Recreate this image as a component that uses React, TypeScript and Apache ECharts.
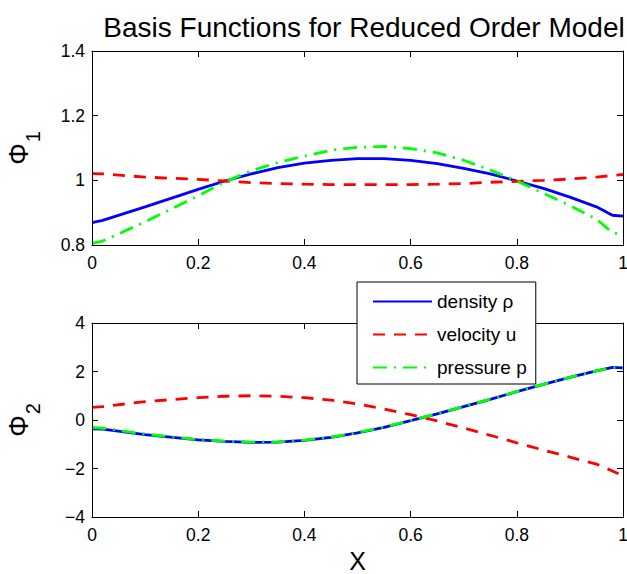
import React, { useEffect, useRef } from "react";
import * as echarts from "echarts";

const xs = [0, 0.02, 0.1, 0.2, 0.25, 0.3, 0.35, 0.4, 0.45, 0.5, 0.55, 0.6, 0.65, 0.7, 0.75, 0.8, 0.85, 0.9, 0.95, 0.98, 1];

const density1 = [0.869, 0.876, 0.918, 0.972, 0.998, 1.02, 1.039, 1.053, 1.062, 1.067, 1.067, 1.062, 1.052, 1.037, 1.02, 0.998, 0.975, 0.948, 0.918, 0.892, 0.889];
const velocity1 = [1.021, 1.02, 1.01, 1.003, 0.998, 0.993, 0.99, 0.988, 0.987, 0.987, 0.987, 0.987, 0.988, 0.99, 0.994, 0.997, 1.0, 1.004, 1.01, 1.015, 1.018];
const pressure1 = [0.805, 0.812, 0.872, 0.952, 0.995, 1.03, 1.055, 1.075, 1.093, 1.102, 1.105, 1.098, 1.085, 1.062, 1.032, 0.998, 0.96, 0.922, 0.88, 0.838, 0.832];

const density2 = [-0.36, -0.38, -0.6, -0.82, -0.88, -0.92, -0.91, -0.84, -0.72, -0.53, -0.3, -0.03, 0.25, 0.55, 0.85, 1.17, 1.47, 1.76, 2.03, 2.17, 2.15];
const velocity2 = [0.52, 0.55, 0.76, 0.92, 0.98, 1.0, 0.98, 0.92, 0.82, 0.66, 0.45, 0.22, -0.04, -0.33, -0.63, -0.94, -1.24, -1.53, -1.82, -2.1, -2.3];
const pressure2 = [-0.3, -0.34, -0.58, -0.81, -0.87, -0.91, -0.9, -0.83, -0.71, -0.52, -0.29, -0.02, 0.26, 0.56, 0.86, 1.17, 1.47, 1.76, 2.03, 2.16, 2.14];

const seriesNames = ["density ρ", "velocity u", "pressure p"];
const title = "Basis Functions for Reduced Order Model";

const FONT = "Liberation Sans, Arial, Helvetica, sans-serif";
const pair = (ys: number[]) => xs.map((x, i) => [x, ys[i]]);

const GL = 92, GW = 531, GH = 194, GT1 = 51, GT2 = 323;

export default function App() {
  const ref = useRef<HTMLDivElement>(null);
  useEffect(() => {
    if (!ref.current) return;
    const chart = echarts.init(ref.current, null, { renderer: "svg" });
    const lineAx = { show: true, onZero: false, lineStyle: { color: "#000", width: 1 } };
    const tickIn = { show: true, inside: true, length: 6, lineStyle: { color: "#000", width: 1 } };
    const lbl = { color: "#000", fontFamily: FONT, fontSize: 17.5 };
    const mkX = (grid: number, name: string) => [
      {
        type: "value", gridIndex: grid, min: 0, max: 1, interval: 0.2, position: "bottom",
        axisLine: lineAx, axisTick: tickIn, splitLine: { show: false },
        axisLabel: { ...lbl, margin: 9, formatter: (v: number) => String(+v.toFixed(1)) },
        name, nameLocation: "middle", nameGap: 31,
        nameTextStyle: { color: "#000", fontFamily: FONT, fontSize: 25 },
      },
      {
        type: "value", gridIndex: grid, min: 0, max: 1, interval: 0.2, position: "top",
        axisLine: lineAx, axisTick: tickIn, splitLine: { show: false }, axisLabel: { show: false },
      },
    ];
    const mkY = (grid: number, min: number, max: number, interval: number, sub: string, fmt: (v: number) => string) => [
      {
        type: "value", gridIndex: grid, min, max, interval, position: "left",
        axisLine: lineAx, axisTick: tickIn, splitLine: { show: false },
        axisLabel: { ...lbl, margin: 7, formatter: fmt },
        name: `{p|Φ}{s|${sub}}`, nameLocation: "middle", nameGap: 49, nameRotate: 90,
        nameTextStyle: {
          color: "#000", fontFamily: FONT,
          rich: {
            p: { fontSize: 27, fontFamily: FONT, color: "#000" },
            s: { fontSize: 20, fontFamily: FONT, color: "#000", padding: [28, 0, 0, 1] },
          },
        },
      },
      {
        type: "value", gridIndex: grid, min, max, interval, position: "right",
        axisLine: lineAx, axisTick: tickIn, splitLine: { show: false }, axisLabel: { show: false },
      },
    ];
    const styles = [
      { color: "#0000ff", lineStyle: { color: "#0000ff", width: 2.8, type: "solid" } },
      { color: "#ff0000", lineStyle: { color: "#ff0000", width: 2.8, type: [12, 9] } },
      { color: "#00ff00", lineStyle: { color: "#00ff00", width: 2.8, type: [14, 7, 2, 7] } },
    ];
    const mkS = (grid: number, data: number[][]) =>
      data.map((d, i) => ({
        type: "line", name: seriesNames[i], xAxisIndex: grid * 2, yAxisIndex: grid * 2,
        data: pair(d as any), showSymbol: false, symbol: "none",
        color: styles[i].color, lineStyle: styles[i].lineStyle, z: grid === 1 && i === 2 ? 4 : 3,
      }));
    const mirror = (grid: number) => ({
      type: "line", xAxisIndex: grid * 2 + 1, yAxisIndex: grid * 2 + 1, data: [], symbol: "none", silent: true,
    });
    const frame = (top: number) => ({
      type: "rect", z: 5, silent: true,
      shape: { x: GL + 0.5, y: top + 0.5, width: GW, height: GH },
      style: { fill: "none", stroke: "#000", lineWidth: 1 },
    });
    chart.setOption({
      animation: false,
      backgroundColor: "#fff",
      title: {
        text: title, left: 359, top: 8, textAlign: "center",
        textStyle: { color: "#000", fontFamily: FONT, fontSize: 28, fontWeight: "normal" },
      },
      grid: [
        { left: GL, top: GT1, width: GW, height: GH, outerBoundsMode: "none", containLabel: false },
        { left: GL, top: GT2, width: GW, height: GH, outerBoundsMode: "none", containLabel: false },
      ],
      graphic: { elements: [frame(GT1), frame(GT2)] },
      xAxis: [...mkX(0, ""), ...mkX(1, "X")],
      yAxis: [
        ...mkY(0, 0.8, 1.4, 0.2, "1", (v: number) => (Math.abs(v - 1) < 1e-9 ? "1" : v.toFixed(1))),
        ...mkY(1, -4, 4, 2, "2", (v: number) => (v < 0 ? "\u2212" + Math.abs(v) : String(v))),
      ],
      legend: {
        data: seriesNames, orient: "vertical", left: 357, top: 282,
        padding: [10, 9, 7, 15], itemGap: 14, itemWidth: 59, itemHeight: 14,
        backgroundColor: "#fff", borderColor: "#000", borderWidth: 1,
        itemStyle: { opacity: 0 },
        textStyle: { color: "#000", fontFamily: FONT, fontSize: 19 },
        z: 10,
      },
      series: [
        ...mkS(0, [density1, velocity1, pressure1]),
        ...mkS(1, [density2, velocity2, pressure2]),
        mirror(0), mirror(1),
      ],
    });
    return () => chart.dispose();
  }, []);
  return <div ref={ref} style={{ position: "absolute", left: 0, top: 0, width: 627, height: 574 }} />;
}
